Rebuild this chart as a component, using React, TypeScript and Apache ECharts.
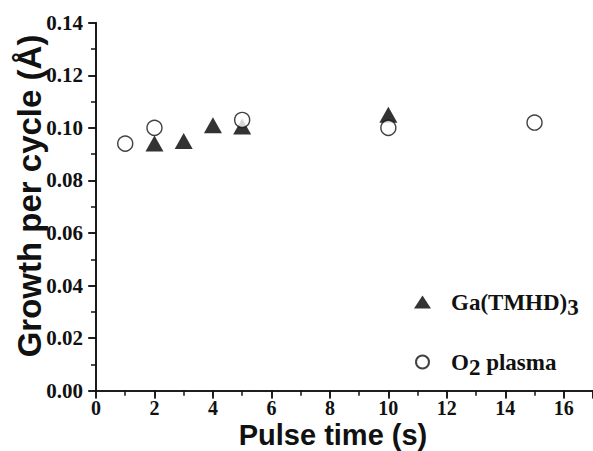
import React, { useEffect, useRef } from "react";
import * as echarts from "echarts";

const gaPulse = [2, 3, 4, 5, 10];
const gaGpc = [0.094, 0.095, 0.101, 0.1005, 0.105];
const o2Pulse = [1, 2, 5, 10, 15];
const o2Gpc = [0.094, 0.1, 0.103, 0.1, 0.102];
const seriesNames = ["Ga(TMHD)3", "O2 plasma"];
const xTitle = "Pulse time (s)";
const yTitle = "Growth per cycle (Å)";

export default function App() {
  const ref = useRef<HTMLDivElement>(null);
  useEffect(() => {
    document.body.style.margin = "0";
    const chart = echarts.init(ref.current!, null, { renderer: "svg" });
    const tickFont = {
      fontFamily: "Liberation Serif",
      fontWeight: "bold" as const,
      color: "#111",
    };
    const axisLine = { show: true, lineStyle: { color: "#111", width: 1.6 } };
    const tickStyle = { color: "#111", width: 1.5 };
    const xBase = {
      type: "value" as const,
      min: 0,
      max: 17,
      interval: 2,
      axisLine,
      splitLine: { show: false },
    };
    const yBase = {
      type: "value" as const,
      min: 0,
      max: 0.14,
      interval: 0.02,
      axisLine,
      splitLine: { show: false },
    };
    const richBase = {
      fontFamily: "Liberation Serif",
      fontWeight: "bold",
      fontSize: 23,
      color: "#111",
      lineHeight: 34,
    };
    chart.setOption({
      animation: false,
      backgroundColor: "#ffffff",
      grid: { left: 96, right: 0, top: 22.7, bottom: 60.3 },
      xAxis: [
        {
          ...xBase,
          position: "bottom",
          axisTick: { show: true, inside: false, length: 8, lineStyle: tickStyle },
          minorTick: { show: true, splitNumber: 2, length: 5, lineStyle: tickStyle },
          axisLabel: { ...tickFont, fontSize: 20, margin: 7, showMaxLabel: false },
        },
        {
          ...xBase,
          position: "top",
          axisTick: { show: true, inside: true, length: 7, lineStyle: tickStyle },
          axisLabel: { show: false },
        },
      ],
      yAxis: [
        {
          ...yBase,
          position: "left",
          axisTick: { show: true, inside: false, length: 8, lineStyle: tickStyle },
          minorTick: { show: true, splitNumber: 2, length: 5, lineStyle: tickStyle },
          axisLabel: {
            ...tickFont,
            fontSize: 21,
            margin: 13,
            formatter: (v: number) => v.toFixed(2),
          },
        },
        {
          ...yBase,
          position: "right",
          axisTick: { show: true, inside: true, length: 7, lineStyle: tickStyle },
          axisLabel: { show: false },
        },
      ],
      legend: {
        orient: "vertical",
        left: 409,
        top: 277,
        itemWidth: 17,
        itemHeight: 13,
        itemGap: 28,
        data: seriesNames,
        formatter: (n: string) =>
          n === seriesNames[0] ? "{m|Ga(TMHD)}{s3|3}" : "{m|O}{s2|2}{m| plasma}",
        textStyle: {
          padding: [0, 0, 0, 15],
          rich: {
            m: { ...richBase, verticalAlign: "middle" },
            s3: { ...richBase, verticalAlign: "bottom", padding: [14, 0, 0, 0] },
            s2: { ...richBase, verticalAlign: "bottom", padding: [9, 0, 0, 0] },
          },
        },
      },
      graphic: [
        {
          type: "text",
          x: 333,
          y: 434.5,
          style: {
            text: xTitle,
            font: "bold 29px 'Liberation Sans'",
            fill: "#111",
            align: "center",
            verticalAlign: "middle",
          },
        },
        {
          type: "text",
          x: 29,
          y: 196,
          rotation: Math.PI / 2,
          style: {
            text: yTitle,
            font: "bold 33px 'Liberation Sans'",
            fill: "#111",
            align: "center",
            verticalAlign: "middle",
          },
        },
      ],
      series: [
        {
          name: seriesNames[0],
          type: "scatter",
          symbol: "triangle",
          symbolSize: [18, 16],
          itemStyle: { color: "#000" },
          data: gaPulse.map((x, i) => [x, gaGpc[i]]),
          z: 2,
        },
        {
          name: seriesNames[1],
          type: "scatter",
          symbol: "circle",
          symbolSize: 15,
          itemStyle: { color: "#fff", borderColor: "#111", borderWidth: 1.4 },
          data: o2Pulse.map((x, i) => [x, o2Gpc[i]]),
          z: 3,
        },
      ],
    });
    return () => chart.dispose();
  }, []);
  return (
    <div
      ref={ref}
      style={{ position: "absolute", left: 0, top: 0, width: 593, height: 451 }}
    />
  );
}
